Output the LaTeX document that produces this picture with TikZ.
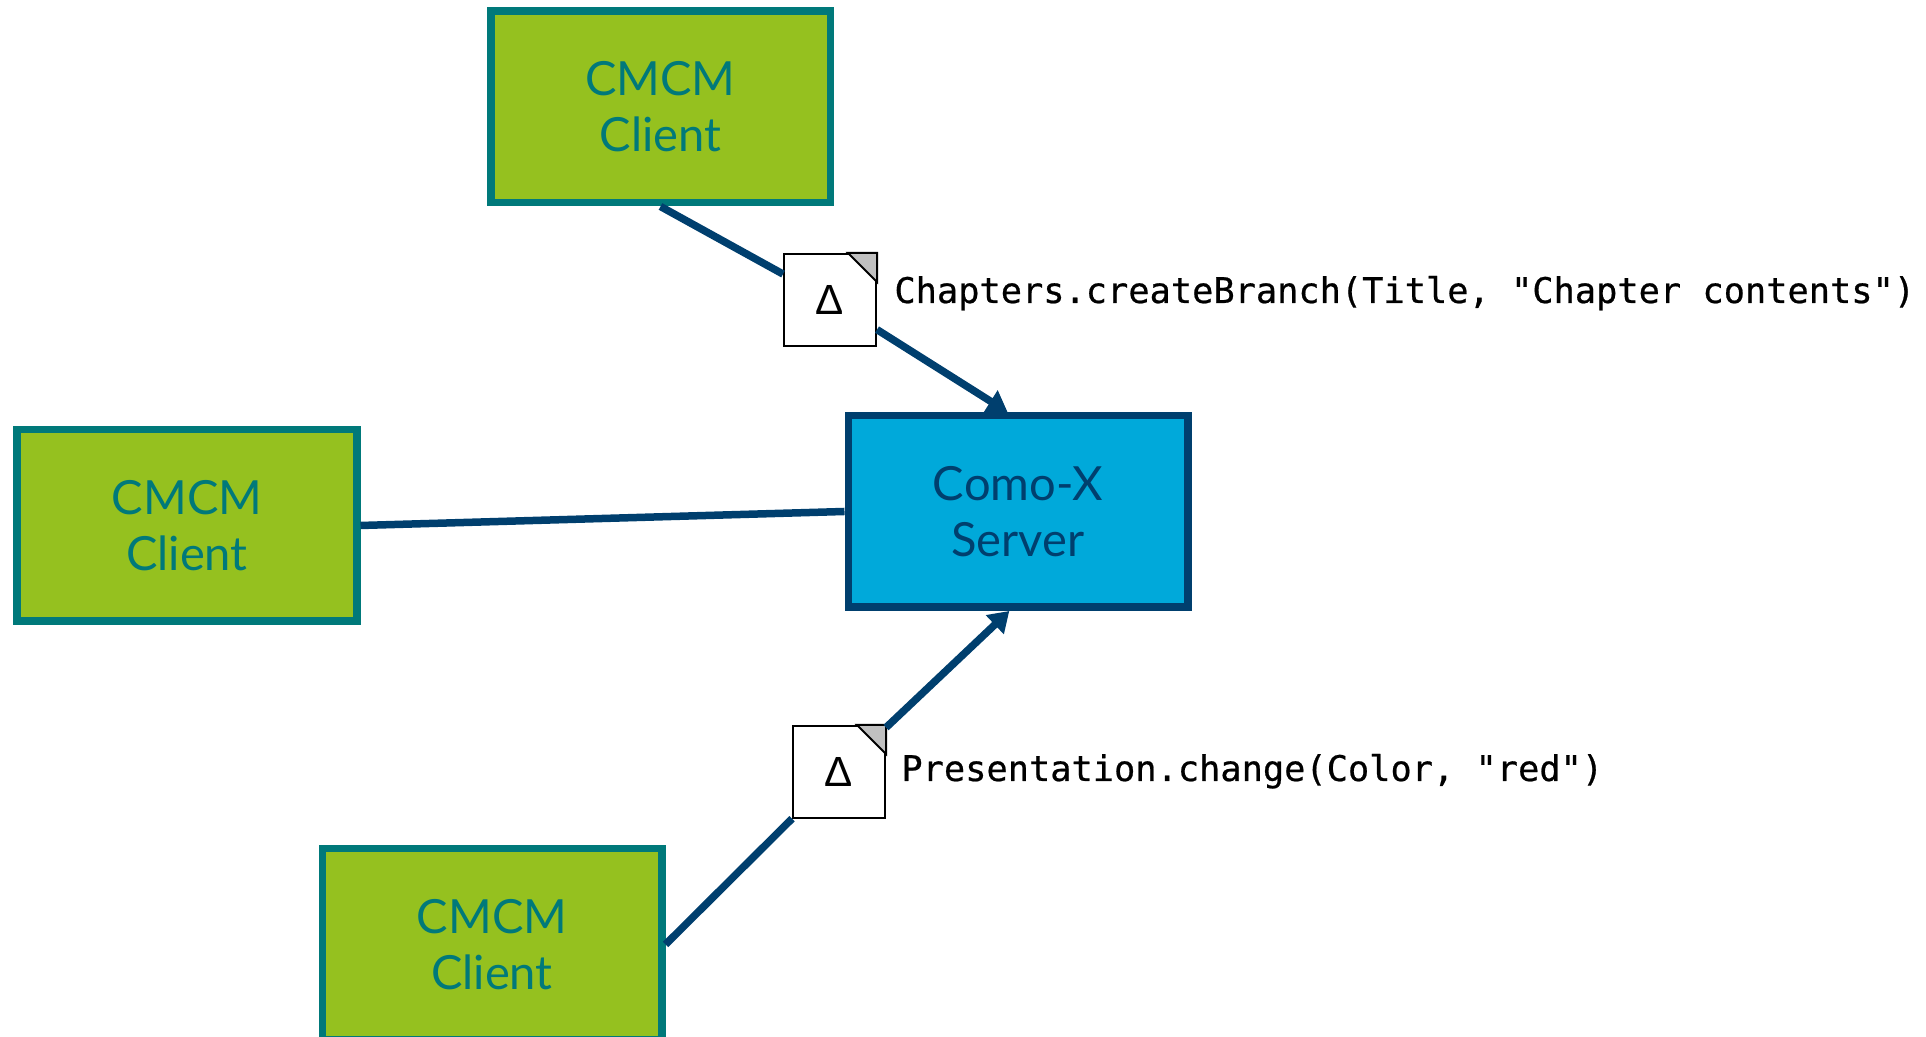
\documentclass[tikz,border=0pt]{standalone}
\usepackage{fontspec}
\setmainfont{Lato}
\newfontfamily\codefont{DejaVu Sans Mono}[Ligatures=TeXOff,FakeBold=0.6]
\newfontfamily\deltafont{Liberation Sans}
\usepackage{tikz}
\usetikzlibrary{arrows.meta}

\definecolor{clientfill}{HTML}{95C11F}
\definecolor{clientline}{HTML}{00797A}
\definecolor{serverfill}{HTML}{00A9DA}
\definecolor{serverline}{HTML}{003F6E}
\definecolor{foldgray}{HTML}{C0C0C0}

\tikzset{
    client/.style={draw=clientline,fill=clientfill,text=clientline,line width=0.075cm,
        minimum width=3.395cm,minimum height=1.915cm,align=center,
        font=\fontsize{13.4}{16}\selectfont},
    server/.style={client,draw=serverline,fill=serverfill,text=serverline},
    delta/.style={draw,fill=white,line width=0.02cm,minimum size=0.92cm,inner sep=0pt,
        font=\deltafont\fontsize{12}{14}\selectfont},
    code/.style={font=\codefont\fontsize{10.05}{12}\selectfont,anchor=base west},
    link/.style={draw=serverline,line width=0.075cm},
    linkarrow/.style={link,-{Triangle[width=0.25cm,length=0.2cm]}}
}

\begin{document}
\begin{tikzpicture}[]
            \useasboundingbox (0,0) rectangle (19.26,10.37);

            \node (srv) at (10.18,5.255) [server] {Como-X\\Server};
            \node (top) at (6.605,9.30) [client] {CMCM\\Client};
            \node (lft) at (1.87,5.115) [client] {CMCM\\Client};
            \node (bot) at (4.92,0.925) [client] {CMCM\\Client};

            \node (d1) at (8.30,7.37) [delta] {Δ};
            \node (d2) at (8.39,2.65) [delta] {Δ};
            \foreach \d in {d1,d2}
                \filldraw[fill=foldgray,line width=0.02cm] (\d.north east) -- ([xshift=-0.29cm]\d.north east)
                    -- ([yshift=-0.29cm]\d.north east) -- cycle;

            \draw[link] (top.south) -- (d1);
            \draw[linkarrow] (d1) -- (srv.96);
            \draw[link] (lft.east) -- (srv.west);
            \draw[link] (bot.east) -- (d2);
            \draw[linkarrow] (d2) -- (srv.-95);

            \node (lbl1) at (8.82,7.34) [code] {Chapters.createBranch(Title, "Chapter contents")};
            \node (lbl2) at (8.89,2.56) [code] {Presentation.change(Color, "red")};
        \end{tikzpicture}
\end{document}
